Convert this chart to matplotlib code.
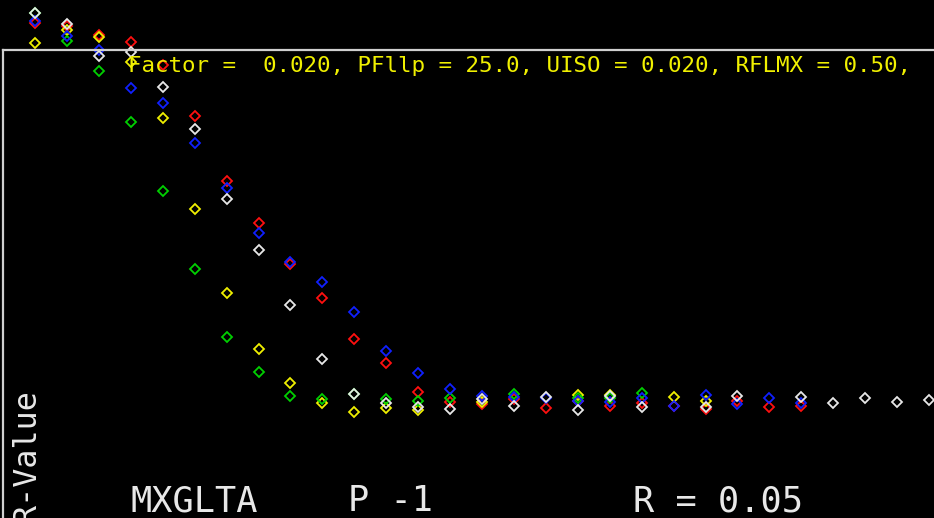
import numpy as np
import matplotlib
matplotlib.use("Agg")
import matplotlib.pyplot as plt

nan = np.nan

# parameter steps along x (one column per step)
steps = np.arange(1, 30)

# R-values per series
red = [0.954, 0.948, 0.930, 0.916, 0.870, 0.768, 0.638, 0.554, 0.472, 0.404,
       0.322, 0.274, 0.216, 0.196, 0.192, 0.202, 0.184, 0.198, 0.188, 0.194,
       0.188, 0.182, 0.198, 0.186, 0.188]
blue = [0.958, 0.928, 0.900, 0.824, 0.794, 0.714, 0.624, 0.534, 0.476, 0.436,
        0.376, 0.298, 0.254, 0.222, 0.208, 0.206, 0.204, 0.198, 0.196, 0.204,
        0.188, 0.210, 0.192, 0.204, 0.194]
white = [0.974, 0.952, 0.888, 0.896, 0.826, 0.742, 0.602, 0.500, 0.390, 0.282,
         0.212, 0.194, 0.186, 0.182, 0.202, 0.188, 0.206, 0.180, 0.208, 0.186,
         nan, 0.186, 0.208, nan, 0.206, 0.194, 0.204, 0.196, 0.200]
green = [0.974, 0.918, 0.858, 0.756, 0.618, 0.462, 0.326, 0.256, 0.208, 0.202,
         0.212, 0.202, 0.198, 0.204, nan, 0.212, nan, 0.204, 0.204, 0.214]
yellow = [0.914, 0.940, 0.926, 0.876, 0.764, 0.582, 0.414, 0.302, 0.234, 0.194,
          0.176, 0.184, 0.180, nan, 0.196, nan, nan, 0.210, 0.210, nan,
          0.206, 0.198]

series = [(red, '#ff1010'), (yellow, '#f0f000'), (green, '#00d000'),
          (blue, '#1020ff'), (white, '#e8e8e8')]

header = "Factor =  0.020, PFllp = 25.0, UISO = 0.020, RFLMX = 0.50,"

W, H = 934, 518
fig = plt.figure(figsize=(W/100, H/100), dpi=100, facecolor='black')
ax = fig.add_axes([3/W, 0, 1.0, (H-50)/H])
ax.set_facecolor('black')

for vals, col in series:
    x = steps[:len(vals)]
    ax.plot(x, vals, ls='none', marker='D', ms=5.5, mfc='none', mec=col,
            mew=1.3, clip_on=False)

# pixel grid: column 1 sits at px 35, spacing ~31.93 px
dx = 31.93
ax.set_xlim(1 + (3 - 35)/dx, 1 + (937 - 35)/dx)
ax.set_ylim((500 - 518)/500, (500 - 50)/500)

for s in ['bottom', 'right']:
    ax.spines[s].set_visible(False)
for s in ['top', 'left']:
    ax.spines[s].set_color('#d0d0d0')
    ax.spines[s].set_linewidth(1.6)
ax.set_xticks([])
ax.set_yticks([])

mono = 'DejaVu Sans Mono'
fig.text(128/W, 1 - 72/H, header, color='#f0f000', family=mono,
         fontsize=16.2, va='baseline', ha='left')

fig.text(130/W, 1 - 511/H, "MXGLTA", color='#e8e8e8', family=mono,
         fontsize=25.4, va='baseline', ha='left')
fig.text(348/W, 1 - 511/H, "P -1", color='#e8e8e8', family=mono,
         fontsize=25.4, va='baseline', ha='left')
fig.text(633/W, 1 - 511/H, "R = 0.05", color='#e8e8e8', family=mono,
         fontsize=25.4, va='baseline', ha='left')

fig.text(35/W, 1 - 522/H, "R-Value", color='#e8e8e8', family=mono,
         fontsize=22.9, rotation=90, rotation_mode='anchor',
         va='baseline', ha='left')

fig.savefig('out.png', dpi=100, facecolor='black')
